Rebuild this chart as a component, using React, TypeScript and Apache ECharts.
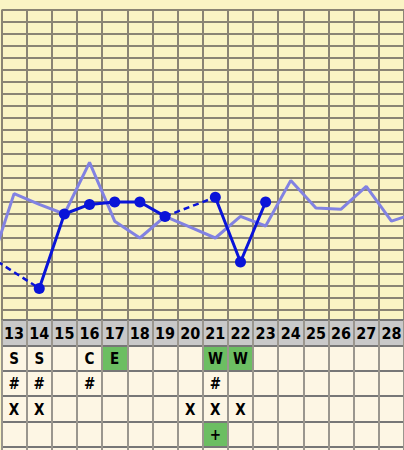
import React, { useEffect, useRef } from "react";
import * as echarts from "echarts";

// ---- data ----
const days = [13, 14, 15, 16, 17, 18, 19, 20, 21, 22, 23, 24, 25, 26, 27, 28];
// previous cycle (light line), days 12..29 (ends fall outside the visible range)
const prevDays = [12, 13, 14, 15, 16, 17, 18, 19, 20, 21, 22, 23, 24, 25, 26, 27, 28, 29];
const prevTemps = [97.33, 97.97, 97.88, 97.8, 98.23, 97.74, 97.6, 97.78, 97.69, 97.6, 97.78, 97.7, 98.08, 97.85, 97.84, 98.03, 97.74, 97.81];
// current cycle (dark line), days 12..23, null = not recorded
const curDays = [12, 13, 14, 15, 16, 17, 18, 19, 20, 21, 22, 23];
const curTemps = [97.45, null, 97.18, 97.8, 97.88, 97.9, 97.9, 97.78, null, 97.94, 97.4, 97.9];
// temperature scale: 96.9 .. 99.5 in steps of 0.1 (26 steps)
const tempMin = 96.9;
const tempMax = 99.5;
const tempSteps = 26;

// table rows
const row1 = ["S", "S", "", "C", "E", "", "", "", "W", "W", "", "", "", "", "", ""];
const row2 = ["#", "#", "", "#", "", "", "", "", "#", "", "", "", "", "", "", ""];
const row3 = ["X", "X", "", "", "", "", "", "X", "X", "X", "", "", "", "", "", ""];
const row4 = ["", "", "", "", "", "", "", "", "+", "", "", "", "", "", "", ""];
const green1 = [17, 21, 22];
const green4 = [21];

const YELLOW = "#faf4c4";
const CREAM = "#fdf6e4";
const HEADER = "#c9c9c9";
const GREEN = "#6cbe62";
const GRID = "#8a8474";
const BLUE = "#0a14d8";
const LIGHT = "#8282e2";
const FONT = "'DejaVu Sans Condensed', 'DejaVu Sans', sans-serif";

export default function App() {
  const ref = useRef<HTMLDivElement>(null);

  useEffect(() => {
    if (!ref.current) return;
    const chart = echarts.init(ref.current, undefined, { renderer: "svg" });

    const prevData = prevDays.map((d, i) => [d, prevTemps[i]]);
    const solidData = curDays
      .map((d, i) => [d, curTemps[i] == null ? "-" : curTemps[i]])
      .filter((p, i) => i > 0 || curTemps[1] != null);
    // dashed segments bridging missing days
    const dashSeries: any[] = [];
    let last = -1;
    curTemps.forEach((t, i) => {
      if (t == null) return;
      if (last >= 0 && i - last > 1) {
        dashSeries.push({
          type: "line",
          xAxisIndex: 1,
          yAxisIndex: 0,
          data: [
            [curDays[last], curTemps[last]],
            [curDays[i], t],
          ],
          showSymbol: false,
          symbol: "none",
          lineStyle: { color: BLUE, width: 2.5, type: [6, 4] },
          z: 3,
        });
      }
      last = i;
    });

    const rows = [days.map(String), row1, row2, row3, row4, days.map(() => "")];
    const cellData: any[] = [];
    rows.forEach((r, ri) => {
      r.forEach((txt, di) => {
        let bg = CREAM;
        if (ri === 0) bg = HEADER;
        if (ri === 1 && green1.includes(days[di])) bg = GREEN;
        if (ri === 4 && green4.includes(days[di])) bg = GREEN;
        cellData.push([di, ri, txt, bg]);
      });
    });

    const hidden = {
      axisLine: { show: false },
      axisTick: { show: false },
      axisLabel: { show: false },
    };

    chart.setOption({
      animation: false,
      backgroundColor: YELLOW,
      grid: [
        { left: 1.5, right: 0, top: 10, height: 312 },
        {
          left: 1.5,
          right: 0,
          top: 320,
          height: 152,
          show: true,
          backgroundColor: CREAM,
          borderWidth: 0,
        },
      ],
      xAxis: [
        {
          type: "category",
          gridIndex: 0,
          data: days,
          boundaryGap: true,
          ...hidden,
          splitLine: { show: true, interval: 0, lineStyle: { color: GRID, width: 2 } },
        },
        { type: "value", gridIndex: 0, min: 12.5, max: 28.5, show: false },
        {
          type: "category",
          gridIndex: 1,
          data: days,
          boundaryGap: true,
          ...hidden,
          splitLine: { show: true, interval: 0, lineStyle: { color: "#9a968e", width: 2 } },
          z: 10,
        },
      ],
      yAxis: [
        { type: "value", gridIndex: 0, min: tempMin, max: tempMax, show: false },
        {
          type: "value",
          gridIndex: 0,
          min: 0,
          max: tempSteps,
          interval: 1,
          ...hidden,
          splitLine: { show: true, lineStyle: { color: GRID, width: 2 } },
        },
        {
          type: "category",
          gridIndex: 1,
          inverse: true,
          data: ["day", "r1", "r2", "r3", "r4", "r5"],
          boundaryGap: true,
          ...hidden,
          splitLine: { show: true, interval: 0, lineStyle: { color: "#777777", width: 2 } },
          z: 10,
        },
      ],
      series: [
        {
          type: "line",
          xAxisIndex: 1,
          yAxisIndex: 0,
          data: prevData,
          showSymbol: false,
          symbol: "none",
          lineStyle: { color: LIGHT, width: 3 },
          z: 2,
        },
        ...dashSeries,
        {
          type: "line",
          xAxisIndex: 1,
          yAxisIndex: 0,
          data: solidData,
          connectNulls: false,
          symbol: "circle",
          symbolSize: 11,
          showSymbol: true,
          itemStyle: { color: BLUE },
          lineStyle: { color: BLUE, width: 3 },
          z: 4,
        },
        {
          type: "custom",
          xAxisIndex: 2,
          yAxisIndex: 2,
          data: cellData,
          encode: { x: 0, y: 1 },
          z: 1,
          renderItem: (params: any, api: any) => {
            const c = api.coord([api.value(0), api.value(1)]);
            const s = api.size([1, 1]);
            const item = cellData[params.dataIndex];
            const isHeader = item[1] === 0;
            return {
              type: "group",
              children: [
                {
                  type: "rect",
                  shape: { x: c[0] - s[0] / 2, y: c[1] - s[1] / 2, width: s[0], height: s[1] },
                  style: { fill: item[3] },
                },
                {
                  type: "text",
                  x: c[0],
                  y: c[1] + 1,
                  style: {
                    text: item[2],
                    fill: "#000",
                    font: `bold ${isHeader ? 16 : 15}px ${FONT}`,
                    align: "center",
                    verticalAlign: "middle",
                  },
                },
              ],
            };
          },
        },
      ],
    });

    return () => chart.dispose();
  }, []);

  return (
    <div
      ref={ref}
      style={{ position: "fixed", left: 0, top: 0, width: 404, height: 476, background: YELLOW }}
    />
  );
}
